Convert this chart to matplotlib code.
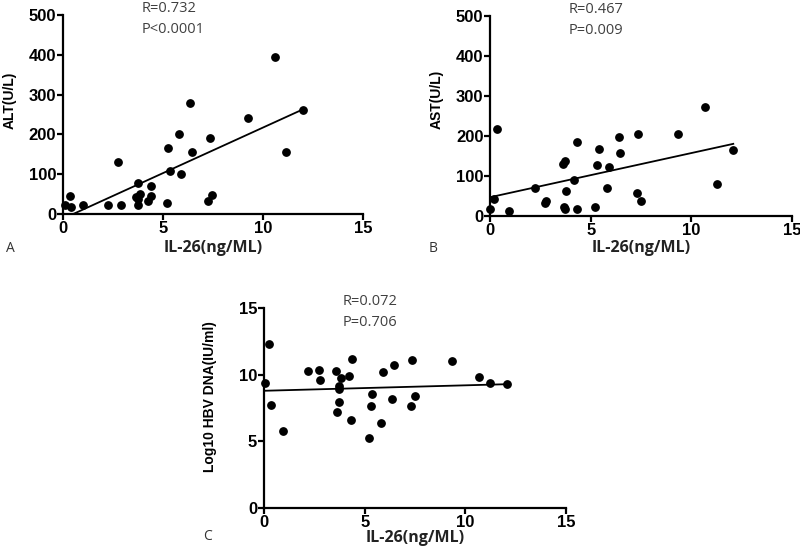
import numpy as np
import matplotlib
matplotlib.use('Agg')
import matplotlib.pyplot as plt

# IL-26 vs ALT
a_x = [0.08, 0.33, 0.38, 0.99, 2.22, 2.75, 2.88, 3.72, 3.62, 3.74, 3.85, 3.74, 4.25,
       4.38, 4.37, 5.2, 5.26, 5.36, 5.8, 5.9, 6.35, 6.42, 7.25, 7.32, 7.43, 9.25,
       10.6, 11.15, 12.0]
a_y = [22, 45, 17, 22, 23, 130, 24, 79, 43, 38, 50, 22, 33,
       45, 71, 29, 167, 109, 201, 102, 278, 157, 32, 190, 49, 241,
       394, 156, 261]

# IL-26 vs AST
b_x = [0.0, 0.2, 0.32, 0.91, 2.21, 2.71, 2.77, 3.62, 3.7, 3.66, 3.69, 3.78, 4.15,
       4.33, 4.32, 5.19, 5.29, 5.38, 5.82, 5.9, 6.38, 6.44, 7.29, 7.34, 7.48,
       9.32, 10.65, 11.26, 12.08]
b_y = [17, 41, 217, 11, 69, 32, 37, 130, 136, 23, 17, 61, 90,
       185, 17, 21, 127, 168, 69, 123, 198, 158, 57, 204, 37,
       206, 272, 80, 166]

# IL-26 vs log10 HBV DNA
c_x = [0.07, 0.26, 0.33, 0.93, 2.2, 2.73, 2.8, 3.6, 3.72, 3.72, 3.72, 3.65, 3.82,
       4.21, 4.35, 4.34, 5.2, 5.29, 5.36, 5.83, 5.89, 6.37, 6.44, 7.28, 7.35, 7.48,
       9.32, 10.66, 11.24, 12.07]
c_y = [9.4, 12.3, 7.7, 5.75, 10.28, 10.33, 9.63, 10.3, 9.17, 8.93, 7.95, 7.2, 9.72,
       9.9, 11.15, 6.63, 5.25, 7.68, 8.58, 6.38, 10.23, 8.15, 10.73, 7.65, 11.13, 8.4,
       11.03, 9.8, 9.4, 9.28]

stats = [('R=0.732', 'P<0.0001'), ('R=0.467', 'P=0.009'), ('R=0.072', 'P=0.706')]
ylabels = ['ALT(U/L)', 'AST(U/L)', 'Log10 HBV DNA(IU/ml)']

fig = plt.figure(figsize=(8, 5.59), dpi=100)
axA = fig.add_axes([0.079, 0.617, 0.375, 0.356])
axB = fig.add_axes([0.613, 0.614, 0.377, 0.357])
axC = fig.add_axes([0.330, 0.091, 0.3775, 0.358])

panels = [
    (axA, a_x, a_y, 500, 100, 0.573, -0.169),
    (axB, b_x, b_y, 500, 100, 0.585, -0.162),
    (axC, c_x, c_y, 15, 5, 0.556, -0.150),
]

tick_font = dict(family='Liberation Sans', weight='bold', size=12)

for i, (ax, x, y, ymax, ystep, ylab_y, xlab_y) in enumerate(panels):
    x = np.array(x)
    y = np.array(y)
    ax.scatter(x, y, s=28, color='black', zorder=3, clip_on=False)
    k, b = np.polyfit(x, y, 1)
    xs = np.array([x.min(), x.max()])
    ax.plot(xs, k * xs + b, color='black', lw=1.3)

    ax.set_xlim(0, 15)
    ax.set_ylim(0, ymax)
    ax.set_xticks([0, 5, 10, 15])
    ax.set_yticks(np.arange(0, ymax + 1, ystep))
    for lab in ax.get_xticklabels() + ax.get_yticklabels():
        lab.set_fontproperties(tick_font)
    ax.spines['top'].set_visible(False)
    ax.spines['right'].set_visible(False)
    for s in ('left', 'bottom'):
        ax.spines[s].set_linewidth(1.6)
    ax.tick_params(direction='out', length=4, width=1.6, pad=1)

    ax.set_ylabel(ylabels[i], family='Liberation Sans', weight='bold', fontsize=10)
    ax.yaxis.set_label_coords(-0.155, ylab_y)
    ax.set_xlabel('IL-26(ng/ML)', family='Open Sans', weight='bold', fontsize=11.5,
                  color='#222222', va='center')
    ax.xaxis.set_label_coords(0.5, xlab_y)

    ax.text(0.26, 1.035, stats[i][0], transform=ax.transAxes, family='Open Sans',
            fontsize=10.5, color='#404040', va='center')
    ax.text(0.26, 0.93, stats[i][1], transform=ax.transAxes, family='Open Sans',
            fontsize=10.5, color='#404040', va='center')

fig.text(10 / 800, 1 - 248 / 559, 'A', family='Open Sans', fontsize=10,
         color='#333333', ha='center', va='center')
fig.text(433 / 800, 1 - 248 / 559, 'B', family='Open Sans', fontsize=10,
         color='#333333', ha='center', va='center')
fig.text(208 / 800, 1 - 537 / 559, 'C', family='Open Sans', fontsize=10,
         color='#333333', ha='center', va='center')

fig.savefig('out.png', dpi=100)
